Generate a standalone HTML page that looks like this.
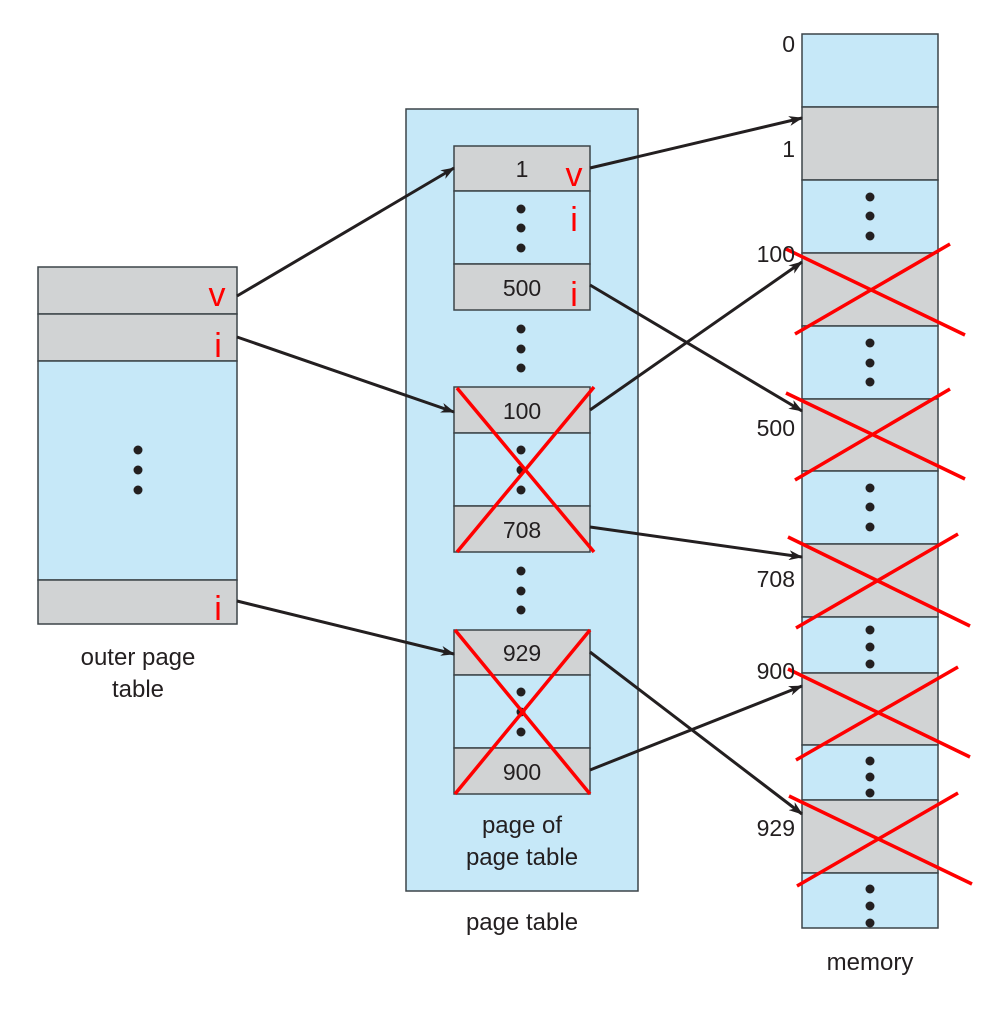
<!DOCTYPE html>
<html><head><meta charset="utf-8"><style>
html,body{margin:0;padding:0;background:#fff;}
svg{display:block;}
text{font-family:"Liberation Sans",sans-serif;fill:#231f20;}
</style></head><body>
<svg width="1000" height="1018" viewBox="0 0 1000 1018" xmlns="http://www.w3.org/2000/svg">
<defs>
<marker id="ah" markerWidth="14" markerHeight="10" refX="13" refY="5" orient="auto" markerUnits="userSpaceOnUse">
<path d="M0,0 L14,5 L0,10 L4,5 Z" fill="#231f20"/>
</marker>
</defs>
<g stroke="#3c4448" stroke-width="1.5">
<!-- outer page table -->
<rect x="38" y="267" width="199" height="47" fill="#d1d3d4"/>
<rect x="38" y="314" width="199" height="47" fill="#d1d3d4"/>
<rect x="38" y="361" width="199" height="219" fill="#c6e8f8"/>
<rect x="38" y="580" width="199" height="44" fill="#d1d3d4"/>
<!-- page table -->
<rect x="406" y="109" width="232" height="782" fill="#c6e8f8"/>
<rect x="454" y="146" width="136" height="45" fill="#d1d3d4"/>
<rect x="454" y="191" width="136" height="73" fill="#c6e8f8"/>
<rect x="454" y="264" width="136" height="46" fill="#d1d3d4"/>
<rect x="454" y="387" width="136" height="46" fill="#d1d3d4"/>
<rect x="454" y="433" width="136" height="73" fill="#c6e8f8"/>
<rect x="454" y="506" width="136" height="46" fill="#d1d3d4"/>
<rect x="454" y="630" width="136" height="45" fill="#d1d3d4"/>
<rect x="454" y="675" width="136" height="73" fill="#c6e8f8"/>
<rect x="454" y="748" width="136" height="46" fill="#d1d3d4"/>
<!-- memory -->
<rect x="802" y="34" width="136" height="73" fill="#c6e8f8"/>
<rect x="802" y="107" width="136" height="73" fill="#d1d3d4"/>
<rect x="802" y="180" width="136" height="73" fill="#c6e8f8"/>
<rect x="802" y="253" width="136" height="73" fill="#d1d3d4"/>
<rect x="802" y="326" width="136" height="73" fill="#c6e8f8"/>
<rect x="802" y="399" width="136" height="72" fill="#d1d3d4"/>
<rect x="802" y="471" width="136" height="73" fill="#c6e8f8"/>
<rect x="802" y="544" width="136" height="73" fill="#d1d3d4"/>
<rect x="802" y="617" width="136" height="56" fill="#c6e8f8"/>
<rect x="802" y="673" width="136" height="72" fill="#d1d3d4"/>
<rect x="802" y="745" width="136" height="55" fill="#c6e8f8"/>
<rect x="802" y="800" width="136" height="73" fill="#d1d3d4"/>
<rect x="802" y="873" width="136" height="55" fill="#c6e8f8"/>
</g>
<!-- dots -->
<g fill="#231f20">
<circle cx="138" cy="450" r="4.5"/><circle cx="138" cy="470" r="4.5"/><circle cx="138" cy="490" r="4.5"/>
<circle cx="521" cy="209" r="4.5"/><circle cx="521" cy="228" r="4.5"/><circle cx="521" cy="248" r="4.5"/>
<circle cx="521" cy="329" r="4.5"/><circle cx="521" cy="349" r="4.5"/><circle cx="521" cy="368" r="4.5"/>
<circle cx="521" cy="450" r="4.5"/><circle cx="521" cy="470" r="4.5"/><circle cx="521" cy="490" r="4.5"/>
<circle cx="521" cy="571" r="4.5"/><circle cx="521" cy="591" r="4.5"/><circle cx="521" cy="610" r="4.5"/>
<circle cx="521" cy="692" r="4.5"/><circle cx="521" cy="712" r="4.5"/><circle cx="521" cy="732" r="4.5"/>
<circle cx="870" cy="197" r="4.5"/><circle cx="870" cy="216" r="4.5"/><circle cx="870" cy="236" r="4.5"/>
<circle cx="870" cy="343" r="4.5"/><circle cx="870" cy="363" r="4.5"/><circle cx="870" cy="382" r="4.5"/>
<circle cx="870" cy="488" r="4.5"/><circle cx="870" cy="507" r="4.5"/><circle cx="870" cy="527" r="4.5"/>
<circle cx="870" cy="630" r="4.5"/><circle cx="870" cy="647" r="4.5"/><circle cx="870" cy="664" r="4.5"/>
<circle cx="870" cy="761" r="4.5"/><circle cx="870" cy="777" r="4.5"/><circle cx="870" cy="793" r="4.5"/>
<circle cx="870" cy="889" r="4.5"/><circle cx="870" cy="906" r="4.5"/><circle cx="870" cy="923" r="4.5"/>
</g>
<!-- arrows -->
<g stroke="#231f20" stroke-width="3" fill="none" marker-end="url(#ah)">
<line x1="237" y1="296" x2="454" y2="168"/>
<line x1="237" y1="337" x2="454" y2="412"/>
<line x1="237" y1="601" x2="454" y2="654"/>
<line x1="590" y1="168" x2="802" y2="118"/>
<line x1="590" y1="285" x2="802" y2="411"/>
<line x1="590" y1="410" x2="802" y2="262"/>
<line x1="590" y1="527" x2="802" y2="557"/>
<line x1="590" y1="652" x2="802" y2="814"/>
<line x1="590" y1="770" x2="802" y2="686"/>
</g>
<!-- crosses -->
<g stroke="#ff0000" stroke-width="3.5" fill="none">
<line x1="457" y1="388" x2="594" y2="552"/><line x1="594" y1="387" x2="457" y2="552"/>
<line x1="455" y1="630" x2="590" y2="794"/><line x1="590" y1="630" x2="455" y2="794"/>
<line x1="786" y1="249" x2="965" y2="335"/><line x1="795" y1="334" x2="950" y2="244"/>
<line x1="786" y1="393" x2="965" y2="479"/><line x1="795" y1="480" x2="950" y2="389"/>
<line x1="788" y1="537" x2="970" y2="626"/><line x1="796" y1="628" x2="958" y2="534"/>
<line x1="788" y1="669" x2="970" y2="757"/><line x1="796" y1="760" x2="958" y2="667"/>
<line x1="789" y1="796" x2="972" y2="884"/><line x1="797" y1="886" x2="958" y2="793"/>
</g>
<!-- red flags -->
<g font-size="34" style="fill:#ff0000" text-anchor="middle">
<text x="217" y="306" style="fill:#ff0000">v</text>
<text x="218" y="357" style="fill:#ff0000">i</text>
<text x="218" y="620" style="fill:#ff0000">i</text>
<text x="574" y="186" style="fill:#ff0000">v</text>
<text x="574" y="231" style="fill:#ff0000">i</text>
<text x="574" y="306" style="fill:#ff0000">i</text>
</g>
<!-- labels -->
<g font-size="23" text-anchor="middle">
<text x="522" y="177">1</text>
<text x="522" y="296">500</text>
<text x="522" y="419">100</text>
<text x="522" y="538">708</text>
<text x="522" y="661">929</text>
<text x="522" y="780">900</text>
</g>
<g font-size="23" text-anchor="end">
<text x="795" y="52">0</text>
<text x="795" y="157">1</text>
<text x="795" y="262">100</text>
<text x="795" y="436">500</text>
<text x="795" y="587">708</text>
<text x="795" y="679">900</text>
<text x="795" y="836">929</text>
</g>
<g font-size="24" text-anchor="middle">
<text x="138" y="665">outer page</text>
<text x="138" y="697">table</text>
<text x="522" y="833">page of</text>
<text x="522" y="865">page table</text>
<text x="522" y="930">page table</text>
<text x="870" y="970">memory</text>
</g>
</svg>
</body></html>
